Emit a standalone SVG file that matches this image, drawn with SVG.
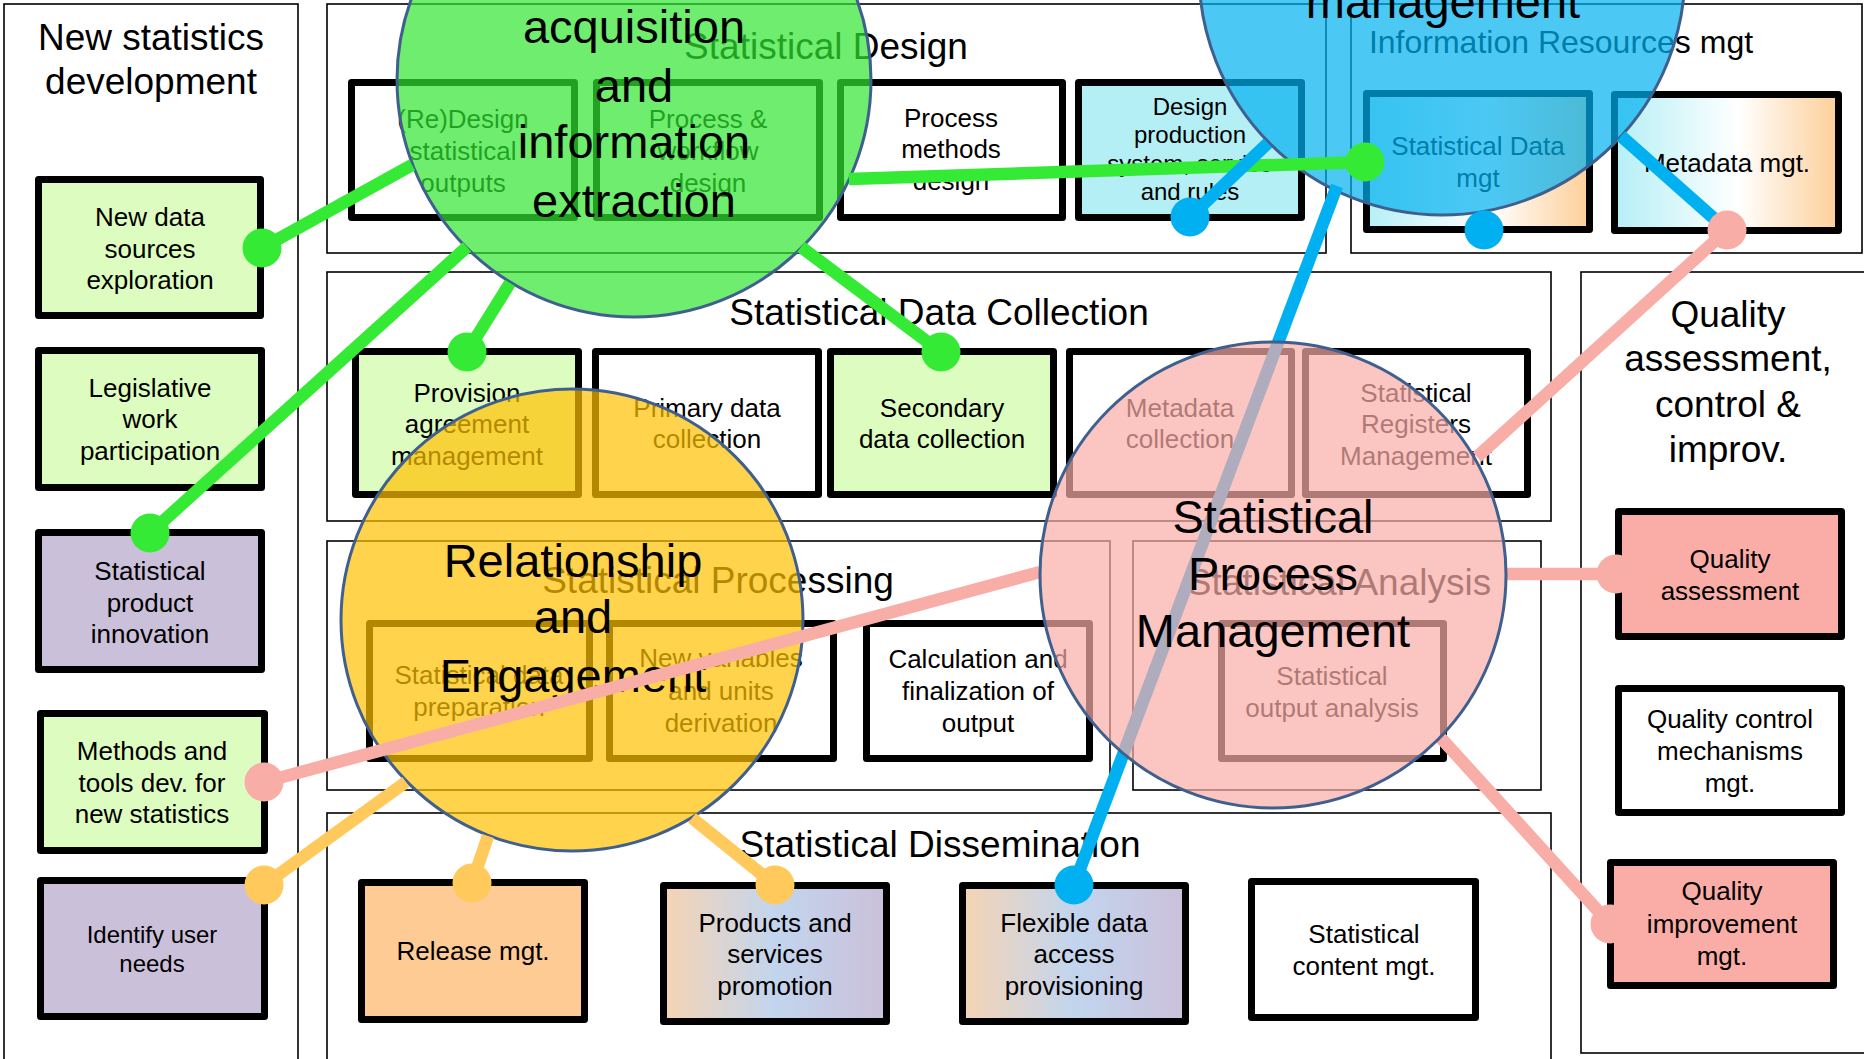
<svg xmlns="http://www.w3.org/2000/svg" width="1864" height="1059" viewBox="0 0 1864 1059">
<style>
.panel{fill:#fff;stroke:#000;stroke-width:1.6}
.box{stroke:#000;stroke-width:7;stroke-linejoin:round}
.t{font-family:"Liberation Sans",Arial,sans-serif;font-size:26px;text-anchor:middle;fill:#000}
.s24{font-size:24px}
.title{font-size:37px}
.t32{font-size:32px}
.big{font-size:47px}
.circ{stroke:#3F5F8F;stroke-width:3;fill-opacity:0.7}
.lg{stroke:#35EA35;stroke-width:12.5;fill:none}
.lb{stroke:#00B0F0;stroke-width:12.5;fill:none}
.lp{stroke:#F9ADA7;stroke-width:12.5;fill:none}
.ly{stroke:#FFC95C;stroke-width:12.5;fill:none}
.dg{fill:#35EA35}
.db{fill:#00B0F0}
.dp{fill:#F9ADA7}
.dy{fill:#FFC95C}
.green{fill:#DDFDC0}
.lav{fill:#CBC0DA}
.cyan{fill:#B4EFF5}
.white{fill:#FFFFFF}
.orange{fill:#FECB94}
.salmon{fill:#F9ADA6}
</style>
<defs>
<linearGradient id="gInfo" x1="0" y1="0" x2="1" y2="0">
<stop offset="0" stop-color="#B4EFF5"/>
<stop offset="0.55" stop-color="#FFFFFF"/>
<stop offset="1" stop-color="#FDCF99"/>
</linearGradient>
<linearGradient id="gDiss" x1="0" y1="0" x2="1" y2="0">
<stop offset="0" stop-color="#F6D4B4"/>
<stop offset="0.5" stop-color="#C2D5EE"/>
<stop offset="1" stop-color="#CBC0DA"/>
</linearGradient>
</defs>
<rect x="0" y="0" width="1864" height="1059" fill="#fff"/>

<g id="panels">
<g id="panel-new-stats"><rect class="panel" x="4" y="4" width="294" height="1070"/>
<text class="t title"><tspan x="151" y="50">New statistics</tspan><tspan x="151" y="94">development</tspan></text></g>
<g id="panel-design"><rect class="panel" x="327" y="4" width="999" height="249"/>
<text class="t title" x="826" y="59">Statistical Design</text></g>
<g id="panel-info"><rect class="panel" x="1351" y="4" width="511" height="249"/>
<text class="t t32" x="1561" y="53">Information Resources mgt</text></g>
<g id="panel-collection"><rect class="panel" x="327" y="272" width="1224" height="249"/>
<text class="t title" x="939" y="325">Statistical Data Collection</text></g>
<g id="panel-quality"><rect class="panel" x="1581" y="272" width="290" height="781"/>
<text class="t title"><tspan x="1728" y="327">Quality</tspan><tspan x="1728" y="371">assessment,</tspan><tspan x="1728" y="417">control &amp;</tspan><tspan x="1728" y="462">improv.</tspan></text></g>
<g id="panel-processing"><rect class="panel" x="327" y="541" width="783" height="249"/>
<text class="t title" x="718" y="593">Statistical Processing</text></g>
<g id="panel-analysis"><rect class="panel" x="1133" y="541" width="408" height="249"/>
<text class="t title" x="1339" y="595">Statistical Analysis</text></g>
<g id="panel-dissemination"><rect class="panel" x="327" y="813" width="1224" height="260"/>
<text class="t title" x="940" y="857">Statistical Dissemination</text></g>
</g>

<g id="boxes">
<g id="new-data-sources"><rect class="box green" x="38.5" y="179.5" width="222" height="136"/>
<text class="t"><tspan x="150" y="226">New data</tspan><tspan x="150" y="258">sources</tspan><tspan x="150" y="289">exploration</tspan></text></g>
<g id="legislative"><rect class="box green" x="38.5" y="350.5" width="223" height="137"/>
<text class="t"><tspan x="150" y="397">Legislative</tspan><tspan x="150" y="428">work</tspan><tspan x="150" y="460">participation</tspan></text></g>
<g id="product-innovation"><rect class="box lav" x="38.5" y="532.5" width="223" height="137"/>
<text class="t"><tspan x="150" y="580">Statistical</tspan><tspan x="150" y="612">product</tspan><tspan x="150" y="643">innovation</tspan></text></g>
<g id="methods-tools"><rect class="box green" x="40.5" y="713.5" width="224" height="137"/>
<text class="t"><tspan x="152" y="760">Methods and</tspan><tspan x="152" y="792">tools dev. for</tspan><tspan x="152" y="823">new statistics</tspan></text></g>
<g id="identify-needs"><rect class="box lav" x="40.5" y="880.5" width="224" height="136"/>
<text class="t s24"><tspan x="152" y="943">Identify user</tspan><tspan x="152" y="972">needs</tspan></text></g>

<g id="redesign-outputs"><rect class="box white" x="351.5" y="82.5" width="223" height="135"/>
<text class="t"><tspan x="463" y="128">(Re)Design</tspan><tspan x="463" y="160">statistical</tspan><tspan x="463" y="192">outputs</tspan></text></g>
<g id="process-workflow"><rect class="box white" x="596.5" y="82.5" width="223" height="135"/>
<text class="t"><tspan x="708" y="128">Process &amp;</tspan><tspan x="708" y="160">workflow</tspan><tspan x="708" y="192">design</tspan></text></g>
<g id="process-methods"><rect class="box white" x="840.5" y="82.5" width="222" height="135"/>
<text class="t"><tspan x="951" y="127">Process</tspan><tspan x="951" y="158">methods</tspan><tspan x="951" y="190">design</tspan></text></g>
<g id="design-production"><rect class="box cyan" x="1078.5" y="82.5" width="223" height="135"/>
<text class="t s24"><tspan x="1190" y="115">Design</tspan><tspan x="1190" y="143">production</tspan><tspan x="1190" y="172">system, service</tspan><tspan x="1190" y="200">and rules</tspan></text></g>

<g id="stat-data-mgt"><rect class="box" fill="url(#gInfo)" x="1366.5" y="93.5" width="223" height="136"/>
<text class="t"><tspan x="1478" y="155">Statistical Data</tspan><tspan x="1478" y="187">mgt</tspan></text></g>
<g id="metadata-mgt"><rect class="box" fill="url(#gInfo)" x="1614.5" y="94.5" width="224" height="136"/>
<text class="t" x="1727" y="172">Metadata mgt.</text></g>

<g id="provision-agreement"><rect class="box green" x="355.5" y="351.5" width="223" height="143"/>
<text class="t"><tspan x="467" y="402">Provision</tspan><tspan x="467" y="433">agreement</tspan><tspan x="467" y="465">management</tspan></text></g>
<g id="primary-collection"><rect class="box white" x="595.5" y="351.5" width="223" height="143"/>
<text class="t"><tspan x="707" y="417">Primary data</tspan><tspan x="707" y="448">collection</tspan></text></g>
<g id="secondary-collection"><rect class="box green" x="830.5" y="351.5" width="223" height="143"/>
<text class="t"><tspan x="942" y="417">Secondary</tspan><tspan x="942" y="448">data collection</tspan></text></g>
<g id="metadata-collection"><rect class="box white" x="1069.5" y="351.5" width="222" height="143"/>
<text class="t"><tspan x="1180" y="417">Metadata</tspan><tspan x="1180" y="448">collection</tspan></text></g>
<g id="registers-mgt"><rect class="box white" x="1305.5" y="351.5" width="222" height="143"/>
<text class="t"><tspan x="1416" y="402">Statistical</tspan><tspan x="1416" y="433">Registers</tspan><tspan x="1416" y="465">Management</tspan></text></g>

<g id="data-preparation"><rect class="box white" x="369.5" y="623.5" width="220" height="135"/>
<text class="t"><tspan x="479" y="684">Statistical data</tspan><tspan x="479" y="716">preparation</tspan></text></g>
<g id="new-variables"><rect class="box white" x="609.5" y="623.5" width="224" height="135"/>
<text class="t"><tspan x="721" y="667">New variables</tspan><tspan x="721" y="700">and units</tspan><tspan x="721" y="732">derivation</tspan></text></g>
<g id="calculation"><rect class="box white" x="866.5" y="623.5" width="223" height="135"/>
<text class="t"><tspan x="978" y="668">Calculation and</tspan><tspan x="978" y="700">finalization of</tspan><tspan x="978" y="732">output</tspan></text></g>
<g id="output-analysis"><rect class="box white" x="1221.5" y="623.5" width="222" height="135"/>
<text class="t"><tspan x="1332" y="685">Statistical</tspan><tspan x="1332" y="717">output analysis</tspan></text></g>

<g id="release-mgt"><rect class="box orange" x="361.5" y="882.5" width="223" height="137"/>
<text class="t" x="473" y="960">Release mgt.</text></g>
<g id="products-promotion"><rect class="box" fill="url(#gDiss)" x="663.5" y="885.5" width="223" height="136"/>
<text class="t"><tspan x="775" y="932">Products and</tspan><tspan x="775" y="963">services</tspan><tspan x="775" y="995">promotion</tspan></text></g>
<g id="flexible-access"><rect class="box" fill="url(#gDiss)" x="962.5" y="885.5" width="223" height="136"/>
<text class="t"><tspan x="1074" y="932">Flexible data</tspan><tspan x="1074" y="963">access</tspan><tspan x="1074" y="995">provisioning</tspan></text></g>
<g id="content-mgt"><rect class="box white" x="1251.5" y="881.5" width="224" height="136"/>
<text class="t"><tspan x="1364" y="943">Statistical</tspan><tspan x="1364" y="975">content mgt.</tspan></text></g>

<g id="quality-assessment"><rect class="box salmon" x="1618.5" y="511.5" width="223" height="125"/>
<text class="t"><tspan x="1730" y="568">Quality</tspan><tspan x="1730" y="600">assessment</tspan></text></g>
<g id="quality-control"><rect class="box white" x="1618.5" y="688.5" width="223" height="124"/>
<text class="t"><tspan x="1730" y="728">Quality control</tspan><tspan x="1730" y="760">mechanisms</tspan><tspan x="1730" y="792">mgt.</tspan></text></g>
<g id="quality-improvement"><rect class="box salmon" x="1610.5" y="862.5" width="223" height="123"/>
<text class="t"><tspan x="1722" y="900">Quality</tspan><tspan x="1722" y="933">improvement</tspan><tspan x="1722" y="965">mgt.</tspan></text></g>
</g>

<g id="circle-data-acquisition">
<circle class="circ" cx="634" cy="80" r="237" fill="#31E631"/>
<text class="t big"><tspan x="634" y="43">acquisition</tspan><tspan x="634" y="102">and</tspan><tspan x="634" y="158">information</tspan><tspan x="634" y="217">extraction</tspan></text>
</g>
<g id="circle-relationship">
<circle class="circ" cx="572" cy="620" r="231" fill="#FFC000"/>
<text class="t big"><tspan x="573" y="577">Relationship</tspan><tspan x="573" y="633">and</tspan><tspan x="573" y="692">Engagement</tspan></text>
</g>
<g id="circle-information-mgt">
<circle class="circ" cx="1442" cy="-28" r="243" fill="#00B0F0"/>
<text class="t big" x="1443" y="18">management</text>
</g>

<g id="connectors">
<line class="lg" x1="412" y1="165" x2="262" y2="248"/>
<line class="lg" x1="467" y1="247" x2="150" y2="533"/>
<line class="lg" x1="510" y1="283" x2="467" y2="352"/>
<line class="lg" x1="801" y1="247" x2="941" y2="352"/>
<line class="lg" x1="849" y1="179" x2="1365" y2="162"/>
<line class="lb" x1="1268" y1="143" x2="1190" y2="217"/>
<line class="lb" x1="1484" y1="211" x2="1484" y2="230"/>
<line class="lb" x1="1621" y1="136" x2="1727" y2="230"/>
<line class="lb" x1="1337" y1="186" x2="1074" y2="885"/>
<line class="lp" x1="1040" y1="572" x2="264" y2="782"/>
<line class="lp" x1="1477" y1="457" x2="1727" y2="230"/>
<line class="lp" x1="1506" y1="574" x2="1616" y2="574"/>
<line class="lp" x1="1440" y1="737" x2="1610" y2="924"/>
<line class="ly" x1="406" y1="782" x2="264" y2="885"/>
<line class="ly" x1="488" y1="836" x2="472" y2="883"/>
<line class="ly" x1="692" y1="818" x2="775" y2="885"/>
<circle class="dg" cx="262" cy="248" r="19.5"/>
<circle class="dg" cx="150" cy="533" r="19.5"/>
<circle class="dg" cx="467" cy="352" r="19.5"/>
<circle class="dg" cx="941" cy="352" r="19.5"/>
<circle class="dg" cx="1365" cy="162" r="19.5"/>
<circle class="db" cx="1190" cy="217" r="19.5"/>
<circle class="db" cx="1484" cy="230" r="19.5"/>
<circle class="db" cx="1074" cy="885" r="19.5"/>
<circle class="dp" cx="1727" cy="230" r="19.5"/>
<circle class="dp" cx="264" cy="782" r="19.5"/>
<circle class="dp" cx="1616" cy="574" r="19.5"/>
<circle class="dp" cx="1610" cy="924" r="19.5"/>
<circle class="dy" cx="264" cy="885" r="19.5"/>
<circle class="dy" cx="472" cy="883" r="19.5"/>
<circle class="dy" cx="775" cy="885" r="19.5"/>
</g>

<g id="circle-process-mgt">
<circle class="circ" cx="1273" cy="575" r="233" fill="#F9ADA7"/>
<text class="t big"><tspan x="1273" y="533">Statistical</tspan><tspan x="1273" y="590">Process</tspan><tspan x="1273" y="647">Management</tspan></text>
</g>
</svg>
